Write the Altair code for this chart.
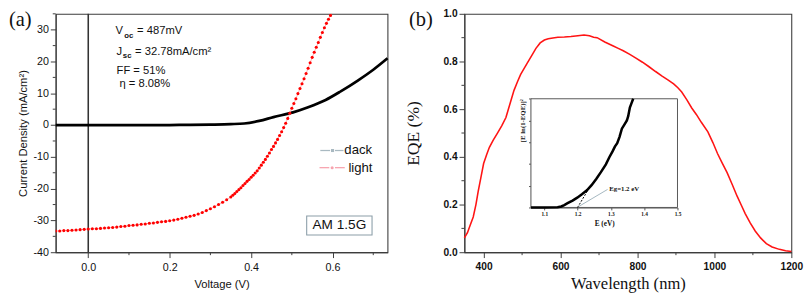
import altair as alt
import pandas as pd

# ---------------- panel (a) data ----------------
dark_v = [-0.08, 0.0, 0.1, 0.2, 0.25, 0.3, 0.35, 0.383, 0.42, 0.455, 0.503, 0.54, 0.583, 0.62, 0.662, 0.70, 0.735]
dark_j = [0.0, 0.0, 0.0, 0.02, 0.05, 0.15, 0.3, 0.5, 1.3, 2.5, 4.0, 5.6, 7.9, 10.6, 14.0, 17.4, 21.0]

light_v = [-0.08, -0.07, -0.06, -0.05, -0.04, -0.03, -0.02, -0.01, 0.0, 0.01, 0.02, 0.03, 0.04, 0.05,
           0.06, 0.07, 0.08, 0.09, 0.10, 0.11, 0.12, 0.13, 0.14, 0.15, 0.16, 0.17, 0.18, 0.19, 0.20,
           0.21, 0.22, 0.23, 0.24, 0.25, 0.26, 0.27, 0.28, 0.29, 0.30, 0.31, 0.32, 0.33, 0.34, 0.35,
           0.355, 0.36, 0.365, 0.37, 0.375, 0.38, 0.385, 0.39, 0.395, 0.40, 0.405, 0.41, 0.415, 0.42,
           0.425, 0.43, 0.435, 0.44, 0.445, 0.45, 0.455, 0.46, 0.465, 0.47, 0.475, 0.48, 0.485, 0.49,
           0.495, 0.50, 0.505, 0.51, 0.515, 0.52, 0.525, 0.53, 0.535, 0.54, 0.545, 0.55, 0.555, 0.56,
           0.565, 0.57, 0.575, 0.58, 0.585, 0.59, 0.595, 0.60]
light_j = [-33.3, -33.3, -33.2, -33.2, -33.1, -33.0, -32.9, -32.8, -32.7, -32.6, -32.6, -32.5, -32.4, -32.3,
           -32.2, -32.1, -31.9, -31.8, -31.6, -31.5, -31.4, -31.2, -31.1, -30.9, -30.8, -30.6, -30.4, -30.3, -30.1,
           -29.9, -29.6, -29.3, -29.0, -28.7, -28.4, -28.0, -27.5, -26.9, -26.3, -25.7, -25.0, -24.3, -23.5, -22.6,
           -22.1, -21.5, -20.9, -20.3, -19.7, -19.0, -18.4, -17.7, -17.1, -16.4, -15.8, -15.1, -14.4, -13.5,
           -12.6, -11.7, -10.8, -9.8, -8.8, -7.7, -6.7, -5.6, -4.5, -3.3, -2.1, -0.8, 0.6, 2.1,
           3.7, 5.3, 6.8, 8.3, 9.9, 11.5, 13.0, 14.6, 16.2, 17.9, 19.6, 21.3, 22.9, 24.5,
           26.0, 27.6, 29.1, 30.6, 32.0, 33.3, 34.5, 35.7]

xa_ticks = [0.0, 0.2, 0.4, 0.6]
xa_minor = [0.1, 0.3, 0.5, 0.7]
ya_ticks = [-40, -30, -20, -10, 0, 10, 20, 30]
ya_minor = [-35, -25, -15, -5, 5, 15, 25, 35]

ann_main_t = ["V", "= 487mV", "J", "= 32.78mA/cm\u00b2", "FF = 51%", "\u03b7 = 8.08%"]
ann_main_v = [0.067, 0.120, 0.0695, 0.115, 0.0695, 0.0766]
ann_main_j = [28.7, 28.7, 22.1, 22.1, 16.1, 11.9]
ann_sub_t = ["oc", "sc"]
ann_sub_v = [0.0886, 0.085]
ann_sub_j = [27.4, 21.0]

leg_t = ["dack", "light"]
leg_j = [-8.0, -13.4]
leg_seg1_a = [0.570, 0.568]
leg_seg1_b = [0.594, 0.592]
leg_seg2_a = [0.606, 0.606]
leg_seg2_b = [0.627, 0.630]
leg_dot_v = [0.600, 0.599]
leg_text_v = [0.629, 0.639]

box_v = [0.5365, 0.697]
box_j = [-28.6, -34.6]
box_label = "AM 1.5G"

# ---------------- panel (b) data ----------------
eqe_nm = [350, 358, 365, 373, 380, 386, 393, 400, 408, 415, 425, 436, 447, 458, 468, 479, 488, 496, 505, 513,
          525, 536, 547, 558, 568, 580, 593, 610, 627, 645, 661, 675, 686, 695, 715, 737, 750, 763, 780, 796,
          813, 830, 847, 864, 880, 894, 905, 915, 928, 941, 953, 966, 983, 996, 1008, 1020, 1033, 1046, 1059,
          1070, 1080, 1093, 1106, 1120, 1135, 1150, 1169, 1185, 1200]
eqe_val = [0.06, 0.082, 0.113, 0.148, 0.2, 0.256, 0.314, 0.372, 0.41, 0.44, 0.47, 0.5, 0.53, 0.565, 0.62, 0.679,
           0.715, 0.745, 0.77, 0.792, 0.825, 0.855, 0.878, 0.89, 0.895, 0.899, 0.902, 0.903, 0.905, 0.908, 0.911,
           0.908, 0.902, 0.9, 0.882, 0.865, 0.855, 0.845, 0.83, 0.814, 0.797, 0.778, 0.758, 0.739, 0.722, 0.706,
           0.69, 0.672, 0.64, 0.605, 0.578, 0.545, 0.505, 0.46, 0.414, 0.375, 0.334, 0.285, 0.235, 0.197, 0.162,
           0.123, 0.089, 0.06, 0.036, 0.022, 0.012, 0.006, 0.003]
xb_ticks = [400, 600, 800, 1000, 1200]
xb_minor = [500, 700, 900, 1100]
yb_ticks = [0.0, 0.2, 0.4, 0.6, 0.8, 1.0]
yb_minor = [0.1, 0.3, 0.5, 0.7, 0.9]

inset_e = [1.06, 1.10, 1.14, 1.151, 1.16, 1.17, 1.185, 1.199, 1.213, 1.228, 1.242, 1.256, 1.27, 1.285, 1.295,
           1.305, 1.312, 1.319, 1.326, 1.333, 1.341, 1.348, 1.352, 1.357, 1.362, 1.367]
inset_y = [0.0, 0.0, 0.002, 0.009, 0.022, 0.039, 0.063, 0.09, 0.122, 0.158, 0.205, 0.262, 0.325, 0.397, 0.46,
           0.516, 0.56, 0.591, 0.65, 0.725, 0.765, 0.8, 0.84, 0.919, 0.96, 1.0]
inset_xticks = [1.1, 1.2, 1.3, 1.4, 1.5]
inset_yticks = [0.0, 0.2, 0.4, 0.6, 0.8, 1.0]
tangent_e = [1.200, 1.237]
tangent_y = [0.0, 0.19]
leader_e = [1.204, 1.29]
leader_y = [0.01, 0.166]
eg_label = "Eg=1.2 eV"
eg_e = [1.295]
eg_y = [0.166]

# ---------------- styling ----------------
SANS = "Liberation Sans"
SERIF = "Liberation Serif"
AX = "#3c3c3c"
H = 245
WA = 341
WB = 336
INSET_L, INSET_R, INSET_T, INSET_B = 68.4, 219.0, 87.3, 199.0


def axis(**kw):
    base = dict(grid=False, domainColor=AX, tickColor=AX, labelColor="#111", titleColor="#111",
                domainWidth=1.1, tickWidth=1, labelFlush=False, labelOverlap=False)
    base.update(kw)
    return alt.Axis(**base)


xa = alt.Scale(domain=[-0.08, 0.735], nice=False, zero=False)
ya = alt.Scale(domain=[-40, 35], nice=False, zero=False)
xa_axis = axis(values=xa_ticks, labelExpr="format(datum.value, '.1f')", title="Voltage (V)",
               tickSize=5.5, labelFont=SANS, labelFontSize=11, labelPadding=4,
               titleFont=SANS, titleFontSize=11.5, titleFontWeight="normal", titlePadding=7)
ya_axis = axis(values=ya_ticks, labelExpr="'' + datum.value", title="Current Density (mA/cm\u00b2)",
               tickSize=5.5, labelFont=SANS, labelFontSize=11, labelPadding=2,
               titleFont=SANS, titleFontSize=11.5, titleFontWeight="normal", titlePadding=5)


def XA(f):
    return alt.X(f, type="quantitative", scale=xa, axis=xa_axis)


def YA(f):
    return alt.Y(f, type="quantitative", scale=ya, axis=ya_axis)


df_dark = pd.DataFrame({"v": dark_v, "j": dark_j})
df_light = pd.DataFrame({"v": light_v, "j": light_j})

zero_rule = alt.Chart(pd.DataFrame({"v": [0.0]})).mark_rule(color="#333", strokeWidth=1.6).encode(x=XA("v"))
dark_line = alt.Chart(df_dark).mark_line(color="#000", strokeWidth=2.8, interpolate="monotone").encode(
    x=XA("v"), y=YA("j"))
light_line = alt.Chart(df_light).mark_line(color="#ff9a9a", strokeWidth=0.8, clip=True).encode(
    x=XA("v"), y=YA("j"))
light_pts = alt.Chart(df_light).mark_circle(color="#ff0000", size=10, opacity=1, clip=True).encode(
    x=XA("v"), y=YA("j"))

xa_min = alt.Chart(pd.DataFrame({"v": xa_minor})).mark_rule(color=AX, strokeWidth=1).encode(
    x=XA("v"), y=alt.value(H), y2=alt.value(H + 3))
ya_min = alt.Chart(pd.DataFrame({"j": ya_minor})).mark_rule(color=AX, strokeWidth=1).encode(
    y=YA("j"), x=alt.value(-3), x2=alt.value(0))

ann_main = alt.Chart(pd.DataFrame({"v": ann_main_v, "j": ann_main_j, "t": ann_main_t})).mark_text(
    align="left", baseline="alphabetic", font=SANS, fontSize=11.5, color="#111").encode(
    x=XA("v"), y=YA("j"), text="t:N")
ann_sub = alt.Chart(pd.DataFrame({"v": ann_sub_v, "j": ann_sub_j, "t": ann_sub_t})).mark_text(
    align="left", baseline="alphabetic", font=SANS, fontSize=8, fontWeight="bold", color="#111").encode(
    x=XA("v"), y=YA("j"), text="t:N")

leg_color = alt.Color("t:N", scale=alt.Scale(domain=leg_t, range=["#a9b9c1", "#f7a3ae"]), legend=None)
df_seg = pd.DataFrame({"v": leg_seg1_a + leg_seg2_a, "v2": leg_seg1_b + leg_seg2_b,
                       "j": leg_j + leg_j, "t": leg_t + leg_t})
leg_segs = alt.Chart(df_seg).mark_rule(strokeWidth=1.3).encode(
    x=XA("v"), x2="v2:Q", y=YA("j"), color=leg_color)
df_dot = pd.DataFrame({"v": leg_dot_v, "j": leg_j, "t": leg_t})
leg_dots = alt.Chart(df_dot).mark_point(filled=True, size=10, opacity=1).encode(
    x=XA("v"), y=YA("j"),
    color=alt.Color("t:N", scale=alt.Scale(domain=leg_t, range=["#000000", "#ff0000"]), legend=None),
    shape=alt.Shape("t:N", scale=alt.Scale(domain=leg_t, range=["square", "circle"]), legend=None))
leg_text = alt.Chart(pd.DataFrame({"v": leg_text_v, "j": leg_j, "t": leg_t})).mark_text(
    align="left", baseline="middle", font=SANS, fontSize=13.5, color="#111").encode(
    x=XA("v"), y=YA("j"), text="t:N")

box = alt.Chart(pd.DataFrame({"v": [box_v[0]], "v2": [box_v[1]], "j": [box_j[0]], "j2": [box_j[1]]})).mark_rect(
    fill="white", stroke="#8b9ea8", strokeWidth=1.1).encode(x=XA("v"), x2="v2:Q", y=YA("j"), y2="j2:Q")
box_text = alt.Chart(pd.DataFrame({"v": [(box_v[0] + box_v[1]) / 2], "j": [(box_j[0] + box_j[1]) / 2],
                                   "t": [box_label]})).mark_text(
    align="center", baseline="middle", font=SANS, fontSize=14, color="#111").encode(
    x=XA("v"), y=YA("j"), text="t:N")

tag_a = alt.Chart(pd.DataFrame({"t": ["(a)"]})).mark_text(
    align="left", baseline="middle", font=SERIF, fontSize=21, color="#111").encode(
    x=alt.value(-48), y=alt.value(7), text="t:N")

panel_a = alt.layer(zero_rule, dark_line, light_line, light_pts, xa_min, ya_min, ann_main, ann_sub,
                    leg_segs, leg_dots, leg_text, box, box_text, tag_a).properties(width=WA, height=H)

# ---------------- panel (b) ----------------
xb = alt.Scale(domain=[350, 1200], nice=False, zero=False)
yb = alt.Scale(domain=[0, 1], nice=False, zero=False)
xb_axis = axis(values=xb_ticks, format="d", title="Wavelength (nm)", tickSize=5.5,
               labelFont=SANS, labelFontSize=10.5, labelFontWeight="bold", labelPadding=4,
               titleFont=SERIF, titleFontSize=17, titleFontWeight="normal", titlePadding=4)
yb_axis = axis(values=yb_ticks, format=".1f", title="EQE (%)", tickSize=5.5,
               labelFont=SANS, labelFontSize=10.5, labelFontWeight="bold", labelPadding=2,
               titleFont=SERIF, titleFontSize=18, titleFontWeight="normal", titlePadding=21)


def XB(f):
    return alt.X(f, type="quantitative", scale=xb, axis=xb_axis)


def YB(f):
    return alt.Y(f, type="quantitative", scale=yb, axis=yb_axis)


eqe_line = alt.Chart(pd.DataFrame({"w": eqe_nm, "q": eqe_val})).mark_line(
    color="#ff1414", strokeWidth=1.6).encode(x=XB("w"), y=YB("q"))
xb_min = alt.Chart(pd.DataFrame({"w": xb_minor})).mark_rule(color=AX, strokeWidth=1).encode(
    x=XB("w"), y=alt.value(H), y2=alt.value(H + 3))
yb_min = alt.Chart(pd.DataFrame({"q": yb_minor})).mark_rule(color=AX, strokeWidth=1).encode(
    y=YB("q"), x=alt.value(-3), x2=alt.value(0))
tag_b = alt.Chart(pd.DataFrame({"t": ["(b)"]})).mark_text(
    align="left", baseline="middle", font=SERIF, fontSize=21, color="#111").encode(
    x=alt.value(-57), y=alt.value(7), text="t:N")

main_b = alt.layer(eqe_line, xb_min, yb_min, tag_b)

xi = alt.Scale(domain=[1.06, 1.5], range=[INSET_L, INSET_R], nice=False, zero=False)
yi = alt.Scale(domain=[0, 1], range=[INSET_B, INSET_T], nice=False, zero=False)
IAX = "#555555"
xi_axis = axis(orient="bottom", offset=INSET_B - H, values=inset_xticks, format=".1f", tickSize=2.5,
               domainColor=IAX, tickColor=IAX,
               labelFont=SERIF, labelFontSize=5.5, labelFontWeight="bold", labelPadding=2,
               title="E (eV)", titleFont=SERIF, titleFontSize=7.5, titleFontWeight="bold", titlePadding=3)
yi_axis = axis(orient="left", offset=-INSET_L, values=inset_yticks, labels=False, tickSize=2.5,
               domainColor=IAX, tickColor=IAX,
               title="[E ln(1-EQE)]\u00b2", titleFont=SERIF, titleFontSize=7, titleFontWeight="bold",
               titlePadding=3, titleAnchor="end")


def XI(f):
    return alt.X(f, type="quantitative", scale=xi, axis=xi_axis)


def YI(f):
    return alt.Y(f, type="quantitative", scale=yi, axis=yi_axis)


inset_frame = alt.Chart(pd.DataFrame({"e": [1.06], "e2": [1.5], "y": [0.0], "y2": [1.0]})).mark_rect(
    fill="white", stroke=IAX, strokeWidth=1).encode(x=XI("e"), x2="e2:Q", y=YI("y"), y2="y2:Q")
inset_curve = alt.Chart(pd.DataFrame({"e": inset_e, "y": inset_y})).mark_line(
    color="#000", strokeWidth=2.6, clip=True).encode(x=XI("e"), y=YI("y"))
tangent = alt.Chart(pd.DataFrame({"e": tangent_e, "y": tangent_y})).mark_line(
    color="#000", strokeWidth=1, strokeDash=[2, 1.5]).encode(x=XI("e"), y=YI("y"))
leader = alt.Chart(pd.DataFrame({"e": leader_e, "y": leader_y})).mark_line(
    color="#a4b6bf", strokeWidth=1).encode(x=XI("e"), y=YI("y"))
eg_text = alt.Chart(pd.DataFrame({"e": eg_e, "y": eg_y, "t": [eg_label]})).mark_text(
    align="left", baseline="middle", font=SERIF, fontSize=7, fontWeight="bold", color="#111").encode(
    x=XI("e"), y=YI("y"), text="t:N")

inset_b = alt.layer(inset_frame, inset_curve, tangent, leader, eg_text)

panel_b = alt.layer(main_b, inset_b).resolve_scale(x="independent", y="independent").properties(
    width=WB, height=H)

chart = alt.hconcat(panel_a, panel_b, spacing=10).properties(
    padding={"left": 0, "top": -4, "right": 0, "bottom": 0}, background="white"
).configure_view(stroke=AX, strokeWidth=1.1)

chart.save("out.html", embed_options={"renderer": "svg", "actions": False})
